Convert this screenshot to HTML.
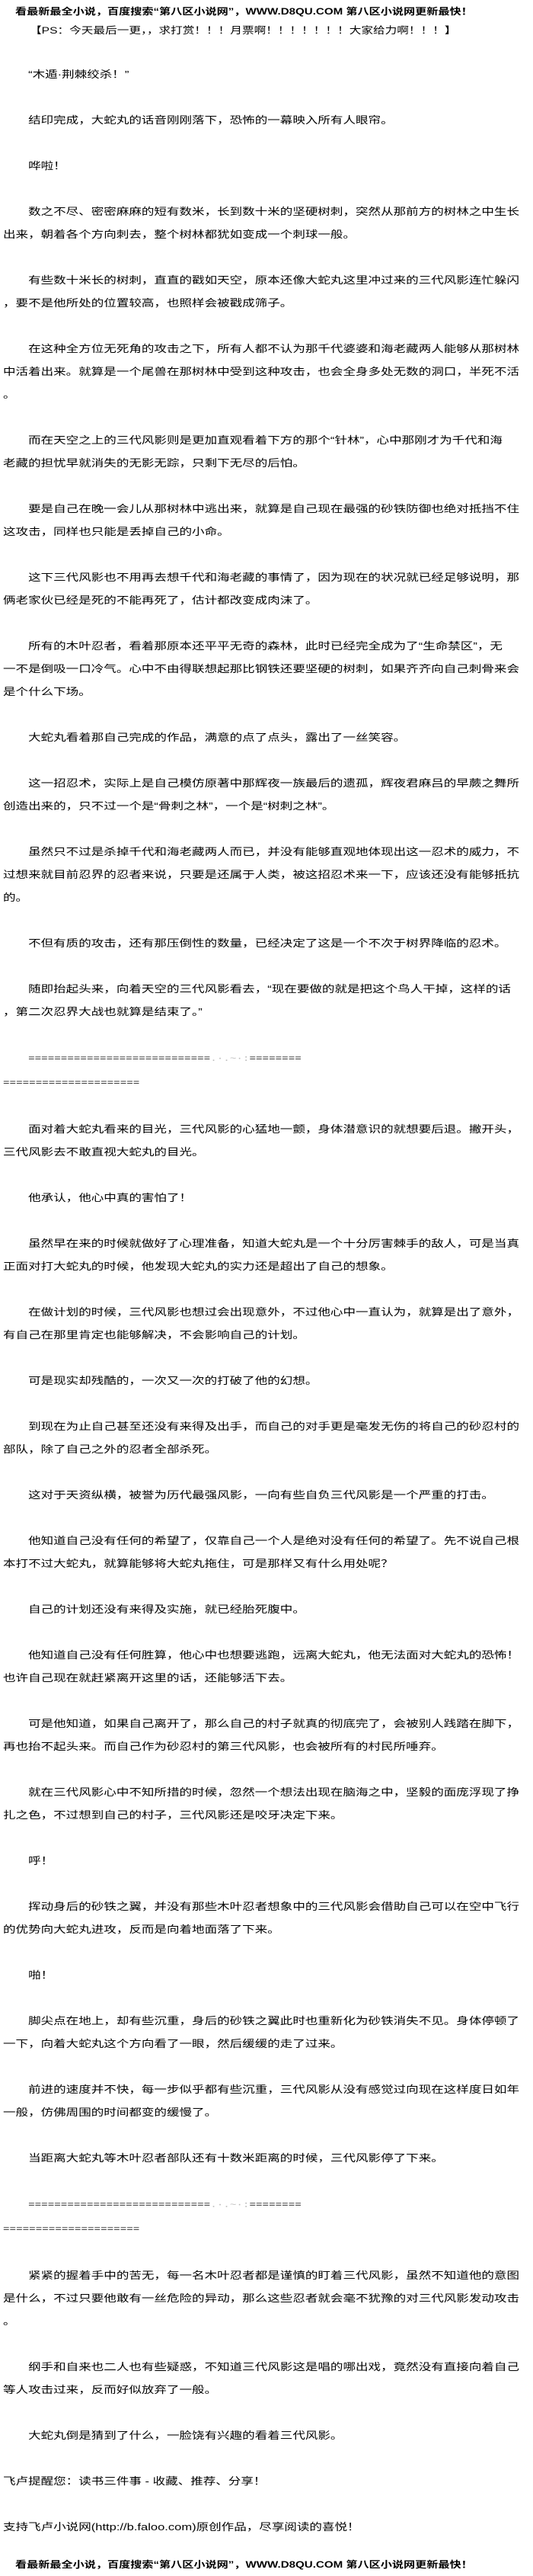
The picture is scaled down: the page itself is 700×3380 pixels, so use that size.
<!DOCTYPE html>
<html><head><meta charset="utf-8">
<style>
html,body{margin:0;padding:0;background:#fff;}
body{width:700px;height:3380px;position:relative;overflow:hidden;color:#000;
font-family:"Liberation Sans","Noto Sans CJK SC","WenQuanYi Zen Hei",sans-serif;}
.s{position:absolute;left:3.6px;transform:scaleX(1.272);transform-origin:0 0;white-space:pre;font-size:13px;line-height:30px;}
.h{font-weight:bold;font-size:11.9px;}
.m{font-family:"Liberation Mono",monospace;font-size:11.2px;}
.f{color:#bbb;}
</style></head><body>
<div class="s h" style="left:20px;top:0px">看最新最全小说，百度搜索“第八区小说网”，WWW.D8QU.COM 第八区小说网更新最快！</div>
<div class="s" style="left:39px;top:25px;font-size:12.3px">【PS：今天最后一更，，求打赏！！！月票啊！！！！！！！大家给力啊！！！】</div>
<div class="s" style="top:83px">　　“木遁·荆棘绞杀！”

　　结印完成，大蛇丸的话音刚刚落下，恐怖的一幕映入所有人眼帘。

　　哗啦！

　　数之不尽、密密麻麻的短有数米，长到数十米的坚硬树刺，突然从那前方的树林之中生长
出来，朝着各个方向刺去，整个树林都犹如变成一个刺球一般。

　　有些数十米长的树刺，直直的戳如天空，原本还像大蛇丸这里冲过来的三代风影连忙躲闪
，要不是他所处的位置较高，也照样会被戳成筛子。

　　在这种全方位无死角的攻击之下，所有人都不认为那千代婆婆和海老藏两人能够从那树林
中活着出来。就算是一个尾兽在那树林中受到这种攻击，也会全身多处无数的洞口，半死不活
。

　　而在天空之上的三代风影则是更加直观看着下方的那个“针林”，心中那刚才为千代和海
老藏的担忧早就消失的无影无踪，只剩下无尽的后怕。

　　要是自己在晚一会儿从那树林中逃出来，就算是自己现在最强的砂铁防御也绝对抵挡不住
这攻击，同样也只能是丢掉自己的小命。

　　这下三代风影也不用再去想千代和海老藏的事情了，因为现在的状况就已经足够说明，那
俩老家伙已经是死的不能再死了，估计都改变成肉沫了。

　　所有的木叶忍者，看着那原本还平平无奇的森林，此时已经完全成为了“生命禁区”，无
一不是倒吸一口冷气。心中不由得联想起那比钢铁还要坚硬的树刺，如果齐齐向自己刺骨来会
是个什么下场。

　　大蛇丸看着那自己完成的作品，满意的点了点头，露出了一丝笑容。

　　这一招忍术，实际上是自己模仿原著中那辉夜一族最后的遗孤，辉夜君麻吕的早蕨之舞所
创造出来的，只不过一个是“骨刺之林”，一个是“树刺之林”。

　　虽然只不过是杀掉千代和海老藏两人而已，并没有能够直观地体现出这一忍术的威力，不
过想来就目前忍界的忍者来说，只要是还属于人类，被这招忍术来一下，应该还没有能够抵抗
的。

　　不但有质的攻击，还有那压倒性的数量，已经决定了这是一个不次于树界降临的忍术。

　　随即抬起头来，向着天空的三代风影看去，“现在要做的就是把这个鸟人干掉，这样的话
，第二次忍界大战也就算是结束了。”

　　<span class="m">============================<span class="f">.·.~·:</span>========</span>
<span class="m">=====================</span>

　　面对着大蛇丸看来的目光，三代风影的心猛地一颤，身体潜意识的就想要后退。撇开头，
三代风影去不敢直视大蛇丸的目光。

　　他承认，他心中真的害怕了！

　　虽然早在来的时候就做好了心理准备，知道大蛇丸是一个十分厉害棘手的敌人，可是当真
正面对打大蛇丸的时候，他发现大蛇丸的实力还是超出了自己的想象。

　　在做计划的时候，三代风影也想过会出现意外，不过他心中一直认为，就算是出了意外，
有自己在那里肯定也能够解决，不会影响自己的计划。

　　可是现实却残酷的，一次又一次的打破了他的幻想。

　　到现在为止自己甚至还没有来得及出手，而自己的对手更是毫发无伤的将自己的砂忍村的
部队，除了自己之外的忍者全部杀死。

　　这对于天资纵横，被誉为历代最强风影，一向有些自负三代风影是一个严重的打击。

　　他知道自己没有任何的希望了，仅靠自己一个人是绝对没有任何的希望了。先不说自己根
本打不过大蛇丸，就算能够将大蛇丸拖住，可是那样又有什么用处呢？

　　自己的计划还没有来得及实施，就已经胎死腹中。

　　他知道自己没有任何胜算，他心中也想要逃跑，远离大蛇丸，他无法面对大蛇丸的恐怖！
也许自己现在就赶紧离开这里的话，还能够活下去。

　　可是他知道，如果自己离开了，那么自己的村子就真的彻底完了，会被别人践踏在脚下，
再也抬不起头来。而自己作为砂忍村的第三代风影，也会被所有的村民所唾弃。

　　就在三代风影心中不知所措的时候，忽然一个想法出现在脑海之中，坚毅的面庞浮现了挣
扎之色，不过想到自己的村子，三代风影还是咬牙决定下来。

　　呼！

　　挥动身后的砂铁之翼，并没有那些木叶忍者想象中的三代风影会借助自己可以在空中飞行
的优势向大蛇丸进攻，反而是向着地面落了下来。

　　啪！

　　脚尖点在地上，却有些沉重，身后的砂铁之翼此时也重新化为砂铁消失不见。身体停顿了
一下，向着大蛇丸这个方向看了一眼，然后缓缓的走了过来。

　　前进的速度并不快，每一步似乎都有些沉重，三代风影从没有感觉过向现在这样度日如年
一般，仿佛周围的时间都变的缓慢了。

　　当距离大蛇丸等木叶忍者部队还有十数米距离的时候，三代风影停了下来。

　　<span class="m">============================<span class="f">.·.~·:</span>========</span>
<span class="m">=====================</span>

　　紧紧的握着手中的苦无，每一名木叶忍者都是谨慎的盯着三代风影，虽然不知道他的意图
是什么，不过只要他敢有一丝危险的异动，那么这些忍者就会毫不犹豫的对三代风影发动攻击
。

　　纲手和自来也二人也有些疑惑，不知道三代风影这是唱的哪出戏，竟然没有直接向着自己
等人攻击过来，反而好似放弃了一般。

　　大蛇丸倒是猜到了什么，一脸饶有兴趣的看着三代风影。

飞卢提醒您：读书三件事 - 收藏、推荐、分享！

支持飞卢小说网(http://b.faloo.com)原创作品，尽享阅读的喜悦！
</div>
<div class="s h" style="left:20px;top:3350px">看最新最全小说，百度搜索“第八区小说网”，WWW.D8QU.COM 第八区小说网更新最快！</div>
</body></html>
